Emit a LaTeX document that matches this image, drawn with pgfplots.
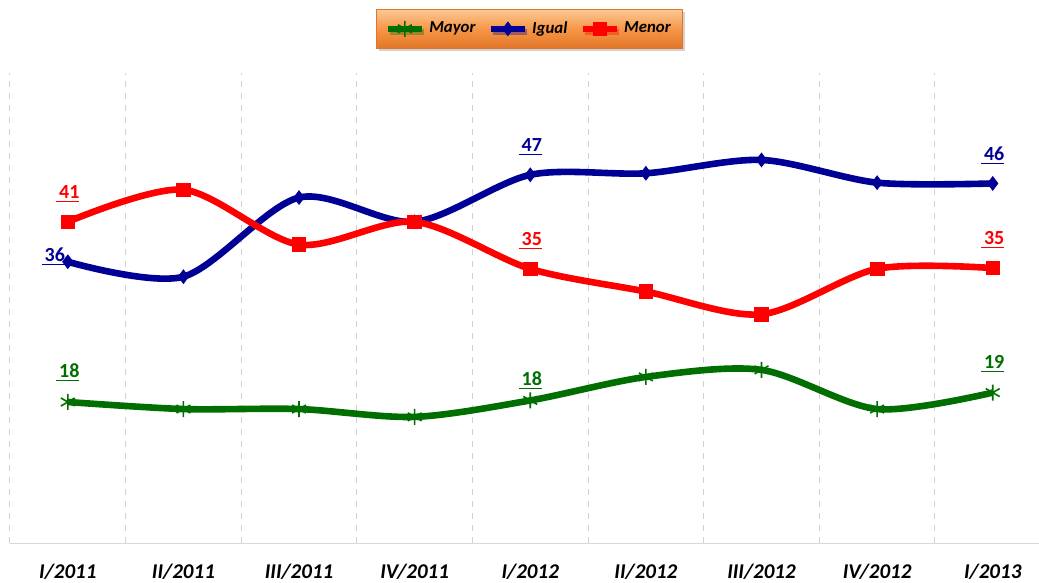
\documentclass[border=0pt]{standalone}
\usepackage{pgfplots}
\pgfplotsset{compat=1.18}
\usepackage{fontspec}
\setmainfont{Carlito}
\usetikzlibrary{shadows}
\definecolor{cgreen}{RGB}{0,110,0}
\definecolor{cblue}{RGB}{0,0,150}
\definecolor{cred}{RGB}{255,0,0}
\definecolor{legtop}{RGB}{252,200,150}
\definecolor{legmid}{RGB}{247,150,70}
\definecolor{legbot}{RGB}{226,118,40}
\begin{document}
\begin{tikzpicture}[x=1pt,y=1pt]
\begin{axis}[
  scale only axis, width=514.5pt, height=235pt,
  xmin=-0.5, xmax=8.4, ymin=0, ymax=60,
  axis y line=none, axis x line*=bottom,
  x axis line style={draw=gray!30, -},
  xtick={0,...,8},
  xticklabels={I/2011,II/2011,III/2011,IV/2011,I/2012,II/2012,III/2012,IV/2012,I/2013},
  minor xtick={-0.5,0.5,...,7.5},
  major tick length=0pt, minor tick length=0pt,
  xminorgrids, minor grid style={dashed, gray!35, line width=0.5pt},
  xticklabel style={font=\fontsize{10.5}{13}\selectfont\bfseries\itshape, yshift=-7pt},
  clip=false,
  legend style={at={(0.505,1.094)}, anchor=center, legend columns=3,
    draw=legbot, top color=legtop, bottom color=legbot, middle color=legmid,
    drop shadow={opacity=0.35, shadow xshift=1pt, shadow yshift=-1.5pt},
    font=\fontsize{8.4}{11}\selectfont\bfseries\itshape,
    inner xsep=4pt, inner ysep=4pt,
    /tikz/every even column/.append style={column sep=4pt}},
  legend cell align=left,
  every node near coord/.append style={font=\fontsize{10}{12}\selectfont\bfseries, anchor=center},
]
\addplot[cgreen, line width=3.3pt, smooth, tension=0.5, mark=asterisk, mark size=4pt,
  mark options={line width=0.8pt, solid}]
  coordinates {(0,18.0) (1,17.1) (2,17.1) (3,16.1) (4,18.2) (5,21.2) (6,22.1) (7,17.1) (8,19.2)};
\addlegendentry{Mayor}
\addplot[cblue, line width=3.3pt, smooth, tension=0.5, mark=diamond*, mark size=3.4pt,
  mark options={solid, line width=0.4pt}]
  coordinates {(0,35.9) (1,34.0) (2,44.1) (3,41.0) (4,47.0) (5,47.2) (6,48.9) (7,46.0) (8,45.9)};
\addlegendentry{Igual}
\addplot[cred, line width=3.3pt, smooth, tension=0.5, mark=square*, mark size=3.4pt,
  mark options={solid, line width=0.4pt}]
  coordinates {(0,41.0) (1,45.1) (2,38.1) (3,41.0) (4,35.0) (5,32.1) (6,29.2) (7,35.0) (8,35.1)};
\addlegendentry{Menor}
% data labels
\addplot[draw=none, mark=none, forget plot, point meta=explicit symbolic,
  nodes near coords={\underline{\kern1.5pt\pgfplotspointmeta}},
  every node near coord/.append style={text=cgreen, yshift=14.5pt}]
  coordinates {(0,18.0) [18] (8,19.2) [19]};
\addplot[draw=none, mark=none, forget plot, point meta=explicit symbolic,
  nodes near coords={\underline{\kern1.5pt\pgfplotspointmeta}},
  every node near coord/.append style={text=cgreen, yshift=10pt}]
  coordinates {(4,18.2) [18]};
\addplot[draw=none, mark=none, forget plot, point meta=explicit symbolic,
  nodes near coords={\underline{\kern1.5pt\pgfplotspointmeta}},
  every node near coord/.append style={text=cblue, yshift=14pt}]
  coordinates {(4,47.0) [47] (8,45.9) [46]};
\addplot[draw=none, mark=none, forget plot, point meta=explicit symbolic,
  nodes near coords={\underline{\kern1.5pt\pgfplotspointmeta}},
  every node near coord/.append style={text=cblue, xshift=-7.25pt, yshift=2.75pt}]
  coordinates {(0,35.9) [36]};
\addplot[draw=none, mark=none, forget plot, point meta=explicit symbolic,
  nodes near coords={\underline{\kern1.5pt\pgfplotspointmeta}},
  every node near coord/.append style={text=cred, yshift=14pt}]
  coordinates {(0,41.0) [41] (4,35.0) [35] (8,35.1) [35]};
\coordinate (SW) at (rel axis cs:0,0);
\end{axis}
\pgfresetboundingbox
\path[use as bounding box, shift={(SW)}] (-5,-20) rectangle (514.5,271.5);
\end{tikzpicture}
\end{document}
